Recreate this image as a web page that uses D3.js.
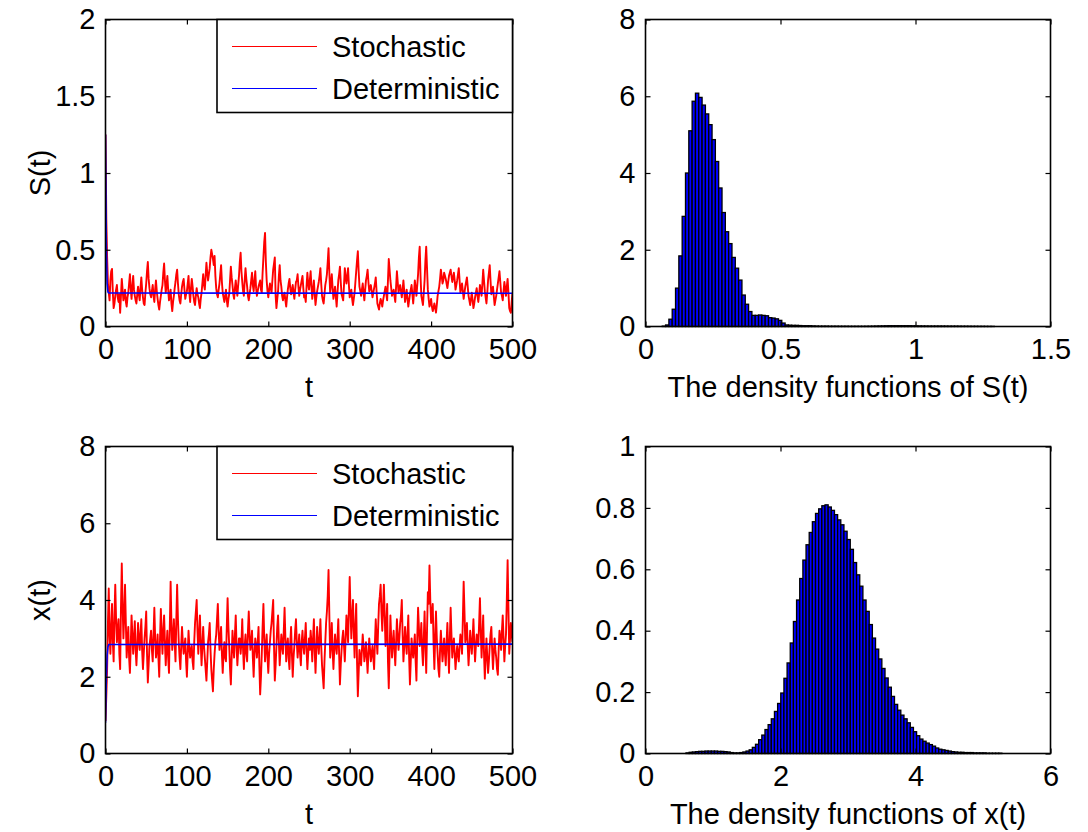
<!DOCTYPE html>
<html>
<head>
<meta charset="utf-8">
<script src="https://cdn.jsdelivr.net/npm/d3@7"></script>
<style>
  html, body { margin: 0; padding: 0; background: #fff; }
  svg { display: block; }
  text { font-family: "Liberation Sans", Arial, Helvetica, sans-serif; fill: #000; }
</style>
</head>
<body>
<svg id="chart" width="1088" height="832"></svg>
<script>
// ---------------- DATA ----------------
// Stochastic samples at even times t = 0,2,...,500
const sEven = [
1.25,0.45,0.22,0.30,0.375,0.12,0.20,0.27,0.16,0.09,
0.31,0.17,0.24,0.13,0.22,0.34,0.18,0.33,0.20,0.15,
0.26,0.17,0.32,0.19,0.14,0.28,0.42,0.25,0.19,0.27,
0.16,0.30,0.18,0.11,0.20,0.27,0.41,0.22,0.33,0.17,
0.24,0.10,0.20,0.29,0.37,0.21,0.15,0.26,0.31,0.18,
0.23,0.33,0.16,0.31,0.20,0.14,0.25,0.19,0.12,0.22,
0.34,0.24,0.415,0.30,0.38,0.50,0.44,0.46,0.25,0.19,
0.28,0.40,0.22,0.16,0.24,0.13,0.21,0.39,0.27,0.18,
0.30,0.20,0.33,0.48,0.29,0.20,0.38,0.26,0.17,0.25,
0.35,0.23,0.36,0.20,0.26,0.30,0.22,0.45,0.61,0.30,
0.19,0.28,0.22,0.37,0.45,0.12,0.23,0.40,0.26,0.17,
0.22,0.13,0.24,0.31,0.21,0.27,0.18,0.29,0.34,0.20,
0.27,0.33,0.19,0.16,0.35,0.24,0.36,0.18,0.30,0.14,
0.23,0.29,0.38,0.20,0.15,0.27,0.34,0.51,0.22,0.34,
0.18,0.26,0.13,0.30,0.39,0.21,0.17,0.38,0.28,0.38,
0.19,0.24,0.14,0.22,0.36,0.49,0.26,0.20,0.28,0.17,
0.30,0.37,0.23,0.27,0.19,0.25,0.32,0.15,0.11,0.18,
0.13,0.20,0.26,0.17,0.44,0.30,0.20,0.24,0.16,0.36,
0.22,0.27,0.19,0.30,0.16,0.24,0.13,0.21,0.27,0.15,
0.30,0.20,0.34,0.52,0.20,0.14,0.30,0.52,0.24,0.13,
0.18,0.10,0.15,0.09,0.20,0.26,0.37,0.28,0.35,0.31,
0.25,0.33,0.37,0.29,0.35,0.24,0.30,0.38,0.22,0.28,
0.18,0.26,0.32,0.20,0.14,0.22,0.12,0.19,0.25,0.16,
0.27,0.20,0.37,0.23,0.15,0.30,0.40,0.21,0.26,0.14,
0.20,0.28,0.36,0.22,0.17,0.29,0.20,0.31,0.12,0.09,
0.22];
// Stochastic samples at odd times t = 1,3,...,499
const sOdd = [
0.70,0.28,0.17,0.36,0.22,0.15,0.24,0.19,0.21,0.20,
0.24,0.20,0.16,0.19,0.28,0.25,0.26,0.24,0.17,0.21,
0.21,0.25,0.24,0.15,0.22,0.36,0.31,0.21,0.23,0.20,
0.24,0.23,0.14,0.16,0.24,0.35,0.30,0.27,0.24,0.20,
0.15,0.16,0.25,0.34,0.28,0.17,0.21,0.29,0.24,0.21,
0.28,0.22,0.25,0.26,0.16,0.20,0.21,0.15,0.18,0.28,
0.27,0.33,0.35,0.34,0.45,0.47,0.40,0.33,0.21,0.24,
0.34,0.29,0.19,0.20,0.17,0.18,0.30,0.32,0.21,0.25,
0.24,0.27,0.42,0.36,0.23,0.30,0.31,0.20,0.21,0.30,
0.27,0.30,0.25,0.23,0.28,0.24,0.35,0.55,0.42,0.23,
0.24,0.25,0.30,0.41,0.20,0.18,0.33,0.30,0.20,0.20,
0.17,0.19,0.28,0.25,0.24,0.22,0.24,0.30,0.26,0.24,
0.30,0.25,0.20,0.26,0.28,0.30,0.26,0.24,0.21,0.19,
0.26,0.33,0.28,0.17,0.21,0.30,0.42,0.35,0.28,0.25,
0.22,0.19,0.22,0.34,0.29,0.19,0.27,0.32,0.33,0.27,
0.21,0.18,0.18,0.29,0.43,0.36,0.23,0.24,0.22,0.24,
0.33,0.29,0.25,0.23,0.22,0.28,0.23,0.13,0.15,0.16,
0.17,0.23,0.21,0.30,0.37,0.25,0.22,0.20,0.26,0.29,
0.25,0.23,0.24,0.23,0.20,0.18,0.17,0.24,0.21,0.22,
0.25,0.27,0.45,0.33,0.17,0.22,0.43,0.38,0.18,0.15,
0.13,0.12,0.12,0.14,0.23,0.31,0.33,0.30,0.33,0.28,
0.29,0.35,0.33,0.32,0.30,0.27,0.34,0.30,0.25,0.23,
0.22,0.29,0.26,0.17,0.18,0.17,0.15,0.22,0.20,0.21,
0.24,0.28,0.30,0.19,0.22,0.35,0.30,0.23,0.20,0.17,
0.24,0.32,0.29,0.20,0.23,0.25,0.26,0.22,0.10,0.16];
const xEven = [
0.85,2.2,4.3,2.6,3.9,2.4,4.4,2.9,3.5,2.2,
4.95,3.0,4.4,2.5,3.3,2.1,3.6,2.6,3.45,2.3,
3.4,2.7,3.5,2.2,3.0,3.7,1.85,2.8,3.2,2.4,
3.8,2.5,3.1,2.0,3.77,2.6,3.6,2.3,3.2,2.1,
4.48,2.7,3.5,2.4,4.4,2.9,2.2,3.3,2.6,3.0,
2.0,3.2,2.5,2.8,2.2,3.4,4.0,2.6,3.6,2.3,
3.3,2.5,1.9,2.9,3.4,2.2,1.62,2.6,3.1,3.9,
2.7,3.3,2.1,2.9,2.4,4.05,2.8,1.8,3.2,2.5,
3.6,2.3,3.0,2.6,3.5,2.2,3.1,2.4,3.7,2.7,
3.2,2.0,3.0,2.5,3.3,1.54,2.6,3.9,2.4,3.1,
2.1,2.9,3.4,4.0,1.9,2.8,3.6,2.3,3.1,2.6,
3.8,2.4,3.0,2.2,3.3,2.0,2.8,3.5,2.5,3.1,
2.3,3.2,2.6,3.4,2.2,3.0,3.2,2.4,3.5,2.1,
3.3,2.6,3.5,2.3,1.7,2.9,3.7,4.78,2.5,3.4,
2.2,3.1,2.6,3.5,1.8,2.7,3.2,2.4,3.6,2.9,
4.6,3.0,4.0,2.5,3.9,1.49,2.7,2.3,3.1,2.4,
2.9,2.1,3.0,2.4,2.8,2.2,3.5,2.6,3.9,4.4,
3.2,4.4,2.8,3.9,1.7,3.6,2.5,3.2,2.3,3.5,
2.7,3.4,4.0,2.4,3.3,2.6,3.6,1.8,3.0,2.5,
3.1,1.9,3.8,2.8,3.4,2.3,3.7,2.1,4.2,4.9,
3.4,3.9,2.2,3.7,2.6,2.0,3.2,2.4,3.0,2.3,
3.4,2.1,3.8,2.5,3.0,2.2,2.8,2.4,3.1,2.6,
4.48,2.9,3.4,2.3,3.2,2.6,3.5,2.4,3.1,2.8,
4.05,2.5,3.6,1.95,3.0,2.1,2.8,3.3,2.2,3.0,
2.5,2.05,3.2,2.7,3.6,2.4,3.1,5.04,2.6,3.4,
2.9];
const xOdd = [
1.5,3.4,3.1,3.3,2.9,3.6,3.5,3.2,2.6,3.8,
3.9,3.6,3.4,2.9,2.5,2.8,3.1,3.0,2.7,2.8,
3.0,3.1,2.7,2.6,3.3,2.6,2.3,3.0,2.7,3.1,
3.0,2.7,2.5,3.0,3.1,3.2,2.9,2.8,2.5,3.3,
3.4,3.0,2.9,3.5,3.5,2.5,2.8,2.9,2.8,2.4,
2.6,2.8,2.7,2.4,2.9,3.7,3.2,3.1,2.9,2.8,
2.8,2.2,2.4,3.1,2.7,1.9,2.2,2.9,3.5,3.2,
3.0,2.6,2.6,2.5,3.3,3.3,2.2,2.5,2.8,3.1,
2.8,2.7,3.0,2.9,2.7,2.8,2.6,3.2,3.1,2.9,
2.5,2.6,2.8,2.9,2.3,2.0,3.3,3.0,2.8,2.5,
2.6,3.2,3.7,2.8,2.3,3.3,2.9,2.7,2.8,3.2,
3.0,2.8,2.5,2.9,2.6,2.5,3.2,2.9,2.8,2.6,
2.9,2.8,3.0,2.7,2.6,2.7,2.9,3.0,2.7,2.7,
2.9,3.0,2.8,2.0,2.4,3.4,4.1,3.6,2.8,2.7,
2.7,2.8,3.0,2.6,2.3,3.0,2.8,3.0,3.3,3.8,
3.7,3.6,3.2,3.3,2.4,2.1,2.5,2.7,2.8,2.6,
2.5,2.6,2.7,2.6,2.5,2.9,3.0,3.3,4.1,3.7,
3.8,3.6,3.3,2.4,2.6,3.0,2.9,2.7,2.9,3.1,
3.0,3.6,3.1,2.8,2.9,3.1,2.5,2.4,2.7,2.8,
2.4,3.0,3.3,3.0,2.7,3.0,2.8,3.2,3.9,4.0,
3.6,2.9,3.0,3.0,2.2,2.7,2.8,2.7,2.6,2.9,
2.7,3.0,3.1,2.8,2.6,2.5,2.6,2.8,2.9,3.5,
3.7,3.1,2.8,2.7,2.9,3.0,2.9,2.8,3.0,3.4,
3.2,3.0,2.6,2.5,2.5,2.4,3.1,2.7,2.6,2.7,
2.2,2.7,3.0,3.2,3.0,2.8,4.0,3.8,3.0,3.1];
const detTimes = [0, 1, 2, 3, 4, 500];
const sDeterministic = [1.25, 0.55, 0.28, 0.225, 0.218, 0.217];
const xDeterministic = [0.8, 1.9, 2.55, 2.78, 2.84, 2.85];

// Histogram of S(t): 100 bins starting at sBinStart with width sBinWidth
const sBinStart = 0.062, sBinWidth = 0.0123;
const sDensity = [
0.01,0.04,0.19,0.45,1.0,1.84,2.87,4.0,5.1,5.87,
6.08,5.97,5.77,5.54,5.26,4.87,4.30,3.61,2.97,2.47,
2.16,1.80,1.52,1.21,0.82,0.58,0.39,0.29,0.29,0.30,
0.29,0.28,0.23,0.22,0.20,0.16,0.09,0.04,0.035,0.03,
0.03,0.025,0.02,0.02,0.02,0.015,0.012,0.01,0.01,0.01,
0.008,0.008,0.008,0.007,0.007,0.007,0.006,0.006,0.006,0.006,
0.006,0.007,0.008,0.01,0.012,0.014,0.016,0.018,0.02,0.02,
0.02,0.02,0.02,0.02,0.02,0.018,0.016,0.015,0.014,0.013,
0.012,0.012,0.012,0.012,0.012,0.011,0.01,0.01,0.01,0.009,
0.008,0.008,0.007,0.006,0.006,0.005,0.005,0.004,0.003,0.003];

// Histogram of x(t): 100 bins starting at xBinStart with width xBinWidth
const xBinStart = 0.6, xBinWidth = 0.0468;
const xDensity = [
0.002,0.004,0.005,0.006,0.007,0.007,0.008,0.008,0.008,0.008,
0.007,0.007,0.006,0.005,0.003,0.002,0.002,0.003,0.005,0.008,
0.012,0.02,0.03,0.045,0.06,0.078,0.094,0.113,0.137,0.163,
0.197,0.245,0.295,0.36,0.43,0.50,0.57,0.63,0.68,0.72,
0.755,0.782,0.797,0.807,0.81,0.803,0.792,0.778,0.761,0.745,
0.724,0.697,0.665,0.622,0.582,0.545,0.50,0.463,0.42,0.376,
0.34,0.308,0.277,0.246,0.216,0.186,0.16,0.141,0.125,0.113,
0.10,0.085,0.071,0.058,0.047,0.04,0.034,0.029,0.024,0.018,
0.014,0.012,0.01,0.008,0.006,0.005,0.004,0.004,0.003,0.003,
0.003,0.002,0.002,0.002,0.002,0.001,0.001,0.001,0.001,0.001];

const tTicks = [0, 100, 200, 300, 400, 500];
const sTicks = [0, 0.5, 1, 1.5, 2];
const sDensTicks = [0, 2, 4, 6, 8];
const sDensXTicks = [0, 0.5, 1, 1.5];
const xTicks = [0, 2, 4, 6, 8];
const xDensTicks = [0, 0.2, 0.4, 0.6, 0.8, 1];
const xDensXTicks = [0, 2, 4, 6];
const legendLabels = ["Stochastic", "Deterministic"];
const legendColors = ["#ff0000", "#0000ff"];

// ---------------- DRAW ----------------
const svg = d3.select("#chart");
const FONT = 29;
const fmt = d => String(d);

function interleave(ev, od) {
  const out = [];
  ev.forEach((v, k) => { out.push([2 * k, v]); if (k < od.length) out.push([2 * k + 1, od[k]]); });
  return out;
}

function frame(p) {
  const g = svg.append("g");
  const x = d3.scaleLinear().domain(p.xDomain).range([p.x0, p.x1]);
  const y = d3.scaleLinear().domain(p.yDomain).range([p.y1, p.y0]);
  return {g, x, y};
}

function axes(p, f) {
  const {g, x, y} = f;
  const tk = 5;
  const ax = g.append("g");
  ax.append("g").attr("transform", `translate(0,${p.y1})`)
    .call(d3.axisBottom(x).tickValues(p.xTicks).tickFormat(fmt).tickSizeInner(-tk).tickSizeOuter(0).tickPadding(12));
  ax.append("g").attr("transform", `translate(0,${p.y0})`)
    .call(d3.axisTop(x).tickValues(p.xTicks).tickFormat("").tickSizeInner(-tk).tickSizeOuter(0));
  ax.append("g").attr("transform", `translate(${p.x0},0)`)
    .call(d3.axisLeft(y).tickValues(p.yTicks).tickFormat(fmt).tickSizeInner(-tk).tickSizeOuter(0).tickPadding(10));
  ax.append("g").attr("transform", `translate(${p.x1},0)`)
    .call(d3.axisRight(y).tickValues(p.yTicks).tickFormat("").tickSizeInner(-tk).tickSizeOuter(0));
  ax.selectAll(".domain").remove();
  ax.selectAll(".tick line").attr("stroke", "#000").attr("stroke-width", 1.2);
  ax.selectAll(".tick text").style("font-size", FONT + "px").attr("fill", "#000")
    .style("font-family", '"Liberation Sans", Arial, sans-serif');
  g.append("rect").attr("x", p.x0).attr("y", p.y0)
    .attr("width", p.x1 - p.x0).attr("height", p.y1 - p.y0)
    .attr("fill", "none").attr("stroke", "#000").attr("stroke-width", 1.6);
  g.append("text").attr("x", (p.x0 + p.x1) / 2).attr("y", p.y1 + 70)
    .attr("text-anchor", "middle").style("font-size", FONT + "px").text(p.xLabel);
  if (p.yLabel) {
    g.append("text").attr("transform", `translate(${p.x0 - 56},${(p.y0 + p.y1) / 2}) rotate(-90)`)
      .attr("text-anchor", "middle").style("font-size", FONT + "px").text(p.yLabel);
  }
}

function timePanel(p, ev, od, det) {
  const f = frame(p);
  const pts = interleave(ev, od);
  const clipId = "clip" + Math.round(p.y0);
  svg.append("clipPath").attr("id", clipId).append("rect")
    .attr("x", p.x0).attr("y", p.y0).attr("width", p.x1 - p.x0).attr("height", p.y1 - p.y0);
  const line = d3.line().x(d => f.x(d[0])).y(d => f.y(d[1]));
  const lg = f.g.append("g").attr("clip-path", `url(#${clipId})`);
  lg.append("path").datum(pts)
    .attr("d", line).attr("fill", "none").attr("stroke", "#ff0000").attr("stroke-width", 1.9)
    .attr("stroke-linejoin", "round");
  lg.append("path").datum(detTimes.map((t, i) => [t, det[i]]))
    .attr("d", line).attr("fill", "none").attr("stroke", "#0000ff").attr("stroke-width", 1.6);
  axes(p, f);
  const L = {x0: 217, x1: p.x1, y0: p.y0, y1: p.y0 + 93};
  const leg = f.g.append("g");
  leg.append("rect").attr("x", L.x0).attr("y", L.y0).attr("width", L.x1 - L.x0).attr("height", L.y1 - L.y0)
    .attr("fill", "#fff").attr("stroke", "#000").attr("stroke-width", 1.6);
  legendLabels.forEach((lab, i) => {
    const cy = L.y0 + 27 + i * 42;
    leg.append("line").attr("x1", L.x0 + 15).attr("x2", L.x0 + 100).attr("y1", cy).attr("y2", cy)
      .attr("stroke", legendColors[i]).attr("stroke-width", 1.2);
    leg.append("text").attr("x", L.x0 + 115).attr("y", cy + 10).style("font-size", FONT + "px").text(lab);
  });
}

function histPanel(p, start, width, dens) {
  const f = frame(p);
  f.g.append("g").selectAll("rect").data(dens).join("rect")
    .attr("x", (d, i) => f.x(start + i * width))
    .attr("width", (d, i) => f.x(start + (i + 1) * width) - f.x(start + i * width))
    .attr("y", d => f.y(d))
    .attr("height", d => f.y(0) - f.y(d))
    .attr("fill", "#0000ff").attr("stroke", "#000").attr("stroke-width", 1.3);
  axes(p, f);
}

const L0 = 105.5, L1 = 512.5, R0 = 645.5, R1 = 1050.5;
const T0 = 19.5, T1 = 326.5, B0 = 446.5, B1 = 753.5;

timePanel({x0: L0, x1: L1, y0: T0, y1: T1, xDomain: [0, 500], yDomain: [0, 2],
  xTicks: tTicks, yTicks: sTicks, xLabel: "t", yLabel: "S(t)"}, sEven, sOdd, sDeterministic);
histPanel({x0: R0, x1: R1, y0: T0, y1: T1, xDomain: [0, 1.5], yDomain: [0, 8],
  xTicks: sDensXTicks, yTicks: sDensTicks, xLabel: "The density functions of S(t)"},
  sBinStart, sBinWidth, sDensity);
timePanel({x0: L0, x1: L1, y0: B0, y1: B1, xDomain: [0, 500], yDomain: [0, 8],
  xTicks: tTicks, yTicks: xTicks, xLabel: "t", yLabel: "x(t)"}, xEven, xOdd, xDeterministic);
histPanel({x0: R0, x1: R1, y0: B0, y1: B1, xDomain: [0, 6], yDomain: [0, 1],
  xTicks: xDensXTicks, yTicks: xDensTicks, xLabel: "The density functions of x(t)"},
  xBinStart, xBinWidth, xDensity);
</script>
</body>
</html>
